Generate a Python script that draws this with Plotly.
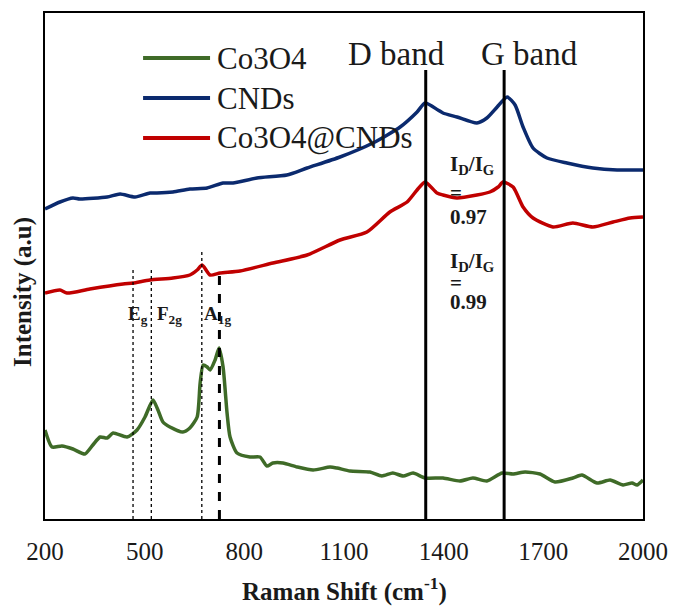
import plotly.graph_objects as go

# ---- data (Raman shift in cm-1, intensity in arbitrary units) ----
co3o4_x = [200, 221, 251, 284, 320, 344, 366, 387, 405, 447, 477, 501, 525, 540, 555, 576,
           615, 636, 658, 667, 676, 688, 697, 712, 724, 736, 748, 757, 778, 817, 847, 868,
           886, 916, 959, 1007, 1058, 1079, 1118, 1178, 1214, 1247, 1278, 1308, 1344, 1398,
           1449, 1488, 1530, 1576, 1609, 1645, 1690, 1735, 1789, 1816, 1862, 1901, 1940,
           1967, 1982, 2000]
co3o4_y = [89, 72, 73, 70, 65, 74, 82, 81, 86, 82, 89, 102, 119, 109, 97, 92,
           87, 91, 102, 136, 154, 152, 149, 159, 171, 152, 106, 82, 66, 62, 62, 53,
           56, 56, 52, 49, 52, 51, 48, 47, 43, 46, 43, 46, 41, 41,
           38, 41, 38, 46, 45, 47, 45, 37, 41, 44, 36, 39, 34,
           36, 34, 39]

cnd_x = [200, 245, 284, 305, 387, 426, 471, 516, 537, 585, 636, 688, 736, 766, 838, 928,
         989, 1088, 1187, 1269, 1320, 1344, 1383, 1398, 1440, 1500, 1530, 1561, 1591,
         1615, 1639, 1669, 1711, 1771, 1849, 1922, 2000]
cnd_y = [310, 317, 321, 320, 322, 325, 322, 326, 326, 327, 330, 331, 336, 336, 341, 344,
         351, 362, 376, 392, 407, 416, 409, 406, 402, 396, 401, 412, 422,
         414, 392, 371, 361, 356, 351, 349, 349]

comp_x = [200, 245, 266, 335, 435, 465, 516, 585, 636, 658, 673, 697, 727, 787, 886, 989,
          1088, 1169, 1238, 1290, 1320, 1344, 1380, 1398, 1440, 1500, 1539, 1564, 1579,
          1609, 1639, 1669, 1729, 1789, 1849, 1910, 1961, 2000]
comp_y = [226, 229, 226, 230, 235, 236, 239, 241, 244, 249, 254, 244, 246, 248, 256, 264,
          279, 287, 307, 317, 329, 337, 326, 324, 321, 324, 327, 332, 337,
          332, 312, 301, 292, 296, 292, 297, 301, 302]

series_names = ["Co3O4", "CNDs", "Co3O4@CNDs"]
series_colors = ["#3F6B28", "#0B2A6E", "#C00000"]

# marker lines
band_x = [1346, 1582]            # D band, G band
band_top = [449, 449]
mode_x = [465, 520, 672]         # Eg, F2g, A1g (dotted)
mode_top = [252, 252, 267]
a1g_x = [725]                    # A1g (dashed)
a1g_top = [249]

tick_vals = [200, 500, 800, 1100, 1400, 1700, 2000]
tick_text = ["200", "500", "800", "1100", "1400", "1700", "2000"]

FONT = "Liberation Serif, Times New Roman, serif"

fig = go.Figure()
for xs, ys, name, col in zip([co3o4_x, cnd_x, comp_x], [co3o4_y, cnd_y, comp_y],
                             series_names, series_colors):
    fig.add_trace(go.Scatter(x=xs, y=ys, mode="lines", name=name, showlegend=False,
                             line=dict(color=col, width=3.5, shape="spline", smoothing=0.6)))

shapes = []
for bx, bt in zip(band_x, band_top):
    shapes.append(dict(type="line", xref="x", yref="y", x0=bx, x1=bx, y0=0, y1=bt,
                       line=dict(color="black", width=3)))
for mx, mt in zip(mode_x, mode_top):
    shapes.append(dict(type="line", xref="x", yref="y", x0=mx, x1=mx, y0=0, y1=mt,
                       line=dict(color="black", width=1.3, dash="dot")))
for ax_, at in zip(a1g_x, a1g_top):
    shapes.append(dict(type="line", xref="x", yref="y", x0=ax_, x1=ax_, y0=0, y1=at,
                       line=dict(color="black", width=3, dash="dash")))

# manual legend
legend_y = [0.911, 0.832, 0.753]
annotations = []
for name, col, ly in zip(series_names, series_colors, legend_y):
    shapes.append(dict(type="line", xref="paper", yref="paper", x0=0.164, x1=0.276,
                       y0=ly, y1=ly, line=dict(color=col, width=4)))
    annotations.append(dict(text=name, xref="paper", yref="paper", x=0.284, y=ly,
                            xanchor="left", yanchor="middle", showarrow=False,
                            font=dict(family=FONT, size=31, color="#1a1a1a")))

annotations += [
    dict(text="D band", xref="paper", yref="paper", x=0.5886, y=0.919, showarrow=False,
         xanchor="center", yanchor="middle", font=dict(family=FONT, size=33, color="#1a1a1a")),
    dict(text="G band", xref="paper", yref="paper", x=0.811, y=0.919, showarrow=False,
         xanchor="center", yanchor="middle", font=dict(family=FONT, size=33, color="#1a1a1a")),
]
ratio_lines = [("<b>I<sub>D</sub>/I<sub>G</sub></b>", 0.6996), ("<b>=</b>", 0.644), ("<b>0.97</b>", 0.597),
               ("<b>I<sub>D</sub>/I<sub>G</sub></b>", 0.508), ("<b>=</b>", 0.466), ("<b>0.99</b>", 0.429)]
for txt, yy in ratio_lines:
    annotations.append(dict(text=txt, xref="paper", yref="paper", x=0.674, y=yy, showarrow=False,
                            xanchor="left", yanchor="middle",
                            font=dict(family=FONT, size=21, color="#1a1a1a")))
mode_labels = [("<b>E<sub>g</sub></b>", 0.1355), ("<b>F<sub>2g</sub></b>", 0.184), ("<b>A<sub>1g</sub></b>", 0.2625)]
for txt, xx in mode_labels:
    annotations.append(dict(text=txt, xref="paper", yref="paper", x=xx, y=0.404, showarrow=False,
                            xanchor="left", yanchor="middle",
                            font=dict(family=FONT, size=19, color="#1a1a1a")))

annotations.append(dict(text="<b>Raman Shift (cm<sup>-1</sup>)</b>", xref="paper", yref="paper",
                        x=0.5, y=(519 - 589) / 506, showarrow=False, xanchor="center", yanchor="middle",
                        font=dict(family=FONT, size=25, color="#1a1a1a")))
annotations.append(dict(text="<b>Intensity (a.u)</b>", xref="paper", yref="paper",
                        x=(23 - 45) / 598, y=(519 - 292) / 506, showarrow=False, textangle=-90,
                        xanchor="center", yanchor="middle",
                        font=dict(family=FONT, size=25, color="#1a1a1a")))

fig.update_layout(
    width=680, height=610,
    margin=dict(l=45, r=37, t=13, b=91),
    paper_bgcolor="white", plot_bgcolor="white",
    shapes=shapes, annotations=annotations,
    xaxis=dict(range=[200, 2000], tickvals=tick_vals, ticktext=tick_text, showgrid=False,
               zeroline=False, showline=True, linecolor="black", linewidth=2, mirror=True,
               ticks="", ticklabelstandoff=9,
               tickfont=dict(family=FONT, size=25, color="#1a1a1a")),
    yaxis=dict(range=[0, 506], showticklabels=False, showgrid=False, zeroline=False,
               showline=True, linecolor="black", linewidth=2, mirror=True, ticks=""),
)

fig.write_html("out.html")
